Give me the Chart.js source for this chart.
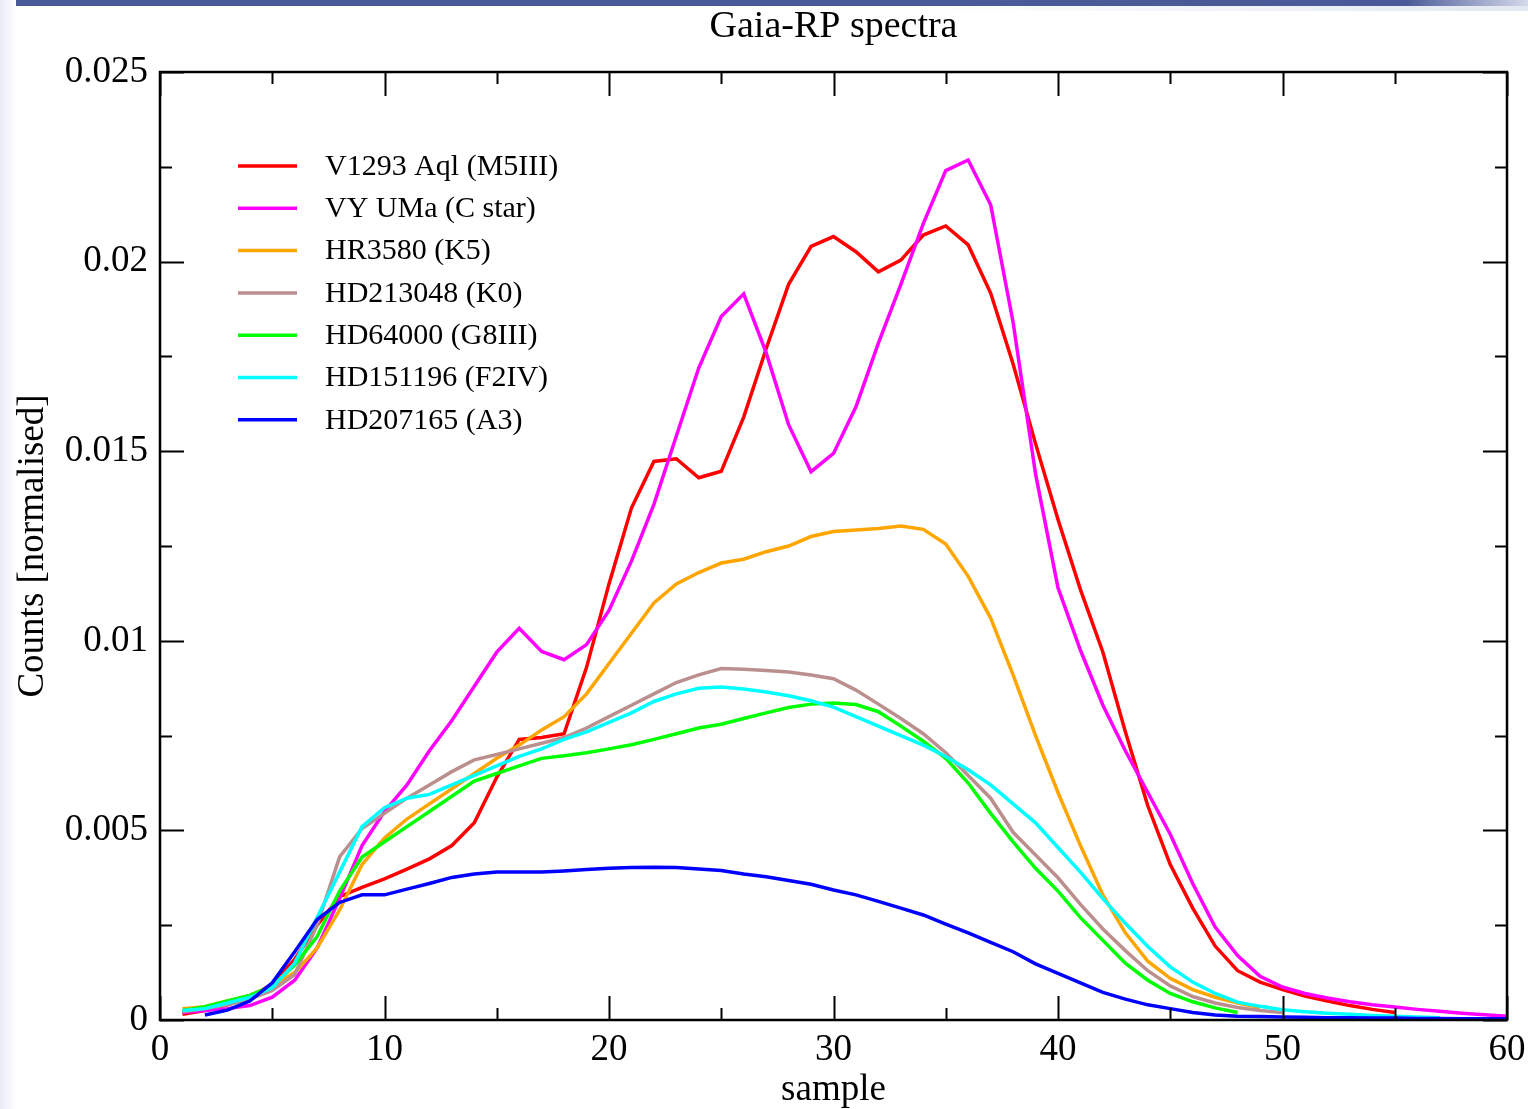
<!DOCTYPE html>
<html>
<head>
<meta charset="utf-8">
<title>Gaia-RP spectra</title>
<script src="https://cdn.jsdelivr.net/npm/chart.js@4.4.1/dist/chart.umd.min.js"></script>
<style>
  html, body { margin: 0; padding: 0; background: #fff; }
  #page { position: relative; width: 1528px; height: 1109px; overflow: hidden; }
  #topbar { position: absolute; left: 0; top: 0; width: 1528px; height: 6px;
            background: linear-gradient(to right, #4a5a98 0%, #4a5a98 92%, #d4d9ea 100%); }
  #topfade { position: absolute; left: 0; top: 6px; width: 1528px; height: 5px;
             background: linear-gradient(to right, #ffffff 60%, #e4e8f2 100%); }
  #leftstrip { position: absolute; left: 0; top: 0; width: 16px; height: 1109px;
               background: linear-gradient(to right, #e8ebf4, #ffffff); }
  canvas { position: absolute; left: 0; top: 0; }
</style>
</head>
<body>
<div id="page">
  <div id="topbar"></div>
  <div id="topfade"></div>
  <div id="leftstrip"></div>
  <canvas id="spectra" width="1528" height="1109"></canvas>
</div>
<script>
// sample index along the dispersed RP spectrum
const samples = [];
for (let s = 1; s <= 60; s++) samples.push(s);

// normalised counts per sample (index 0 = sample 1)
const v1293Aql = [0.00015, 0.00025, 0.0004, 0.0006, 0.00095, 0.0016, 0.0025, 0.00325, 0.0035, 0.00372,
  0.00398, 0.00425, 0.0046, 0.0052, 0.0064, 0.0074, 0.00745, 0.00755, 0.0093, 0.0115,
  0.0135, 0.01473, 0.0148, 0.0143, 0.01447, 0.0159, 0.0177, 0.0194, 0.0204, 0.02066,
  0.02026, 0.01973, 0.02004, 0.0207, 0.02094, 0.02044, 0.01917, 0.0173, 0.0152, 0.0132,
  0.01135, 0.0097, 0.0076, 0.00565, 0.0041, 0.00295, 0.00195, 0.0013, 0.001, 0.0008,
  0.00063, 0.0005, 0.00038, 0.00028, 0.0002];
const vyUMa = [0.0002, 0.00025, 0.0003, 0.00038, 0.0006, 0.00105, 0.0019, 0.0032, 0.0046, 0.0055,
  0.0062, 0.0071, 0.0079, 0.0088, 0.0097, 0.01033, 0.00972, 0.0095, 0.0099, 0.0108,
  0.0121, 0.0136, 0.0154, 0.0172, 0.01855, 0.01915, 0.0176, 0.0157, 0.01446, 0.01494,
  0.01617, 0.01785, 0.0194, 0.021, 0.0224, 0.02268, 0.0215, 0.0184, 0.0144, 0.0114,
  0.00975, 0.0083, 0.0071, 0.006, 0.0049, 0.0036, 0.00245, 0.0017, 0.00115, 0.00087,
  0.0007, 0.00058, 0.00048, 0.0004, 0.00034, 0.00028, 0.00023, 0.00018, 0.00014, 0.0001];
const hr3580 = [0.0003, 0.00035, 0.0005, 0.00065, 0.0009, 0.00125, 0.0019, 0.0029, 0.0041, 0.0048,
  0.0053, 0.0057, 0.0061, 0.0065, 0.0069, 0.00725, 0.00765, 0.008, 0.0086, 0.0094,
  0.0102, 0.011, 0.0115, 0.0118, 0.01205, 0.01215, 0.01235, 0.0125, 0.01275, 0.01288,
  0.01292, 0.01296, 0.01303, 0.01294, 0.01255, 0.0117, 0.0106, 0.0091, 0.0075, 0.006,
  0.0046, 0.0033, 0.0023, 0.00155, 0.0011, 0.0008, 0.0006, 0.00045, 0.00033];
const hd213048 = [0.00022, 0.0003, 0.0004, 0.00055, 0.00078, 0.0012, 0.0025, 0.0043, 0.00505, 0.00545,
  0.00585, 0.0062, 0.00655, 0.00686, 0.007, 0.00715, 0.0073, 0.00745, 0.0077, 0.008,
  0.0083, 0.0086, 0.0089, 0.0091, 0.00927, 0.00925, 0.00922, 0.00918, 0.0091, 0.009,
  0.0087, 0.00833, 0.00795, 0.00755, 0.00705, 0.00645, 0.00585, 0.00495, 0.00435, 0.00375,
  0.00305, 0.0024, 0.00183, 0.0013, 0.0009, 0.00062, 0.00045, 0.00033, 0.00025, 0.0002];
const hd64000 = [0.00025, 0.00035, 0.0005, 0.00065, 0.0009, 0.00145, 0.0022, 0.0034, 0.0043, 0.0047,
  0.0051, 0.0055, 0.0059, 0.0063, 0.0065, 0.0067, 0.0069, 0.00697, 0.00705, 0.00715,
  0.00726, 0.0074, 0.00755, 0.0077, 0.0078, 0.00795, 0.0081, 0.00824, 0.00833, 0.00836,
  0.00832, 0.00813, 0.00775, 0.00735, 0.0069, 0.00625, 0.00545, 0.0047, 0.004, 0.0034,
  0.0027, 0.0021, 0.0015, 0.00105, 0.0007, 0.00048, 0.00032, 0.0002];
const hd151196 = [0.00025, 0.0003, 0.00045, 0.0006, 0.00085, 0.0015, 0.0027, 0.0039, 0.0051, 0.0056,
  0.00585, 0.00595, 0.0062, 0.00645, 0.0067, 0.00695, 0.00715, 0.0074, 0.0076, 0.00785,
  0.0081, 0.0084, 0.0086, 0.00875, 0.00878, 0.00873, 0.00865, 0.00855, 0.00842, 0.00825,
  0.008, 0.00775, 0.0075, 0.00725, 0.00695, 0.0066, 0.0062, 0.0057, 0.0052, 0.00455,
  0.0039, 0.0032, 0.00255, 0.00194, 0.0014, 0.001, 0.0007, 0.00047, 0.00036, 0.00027,
  0.00022, 0.00018, 0.00015, 0.00012, 0.0001, 0.00008, 0.00006];
const hd207165 = [null, 0.00013, 0.00026, 0.0005, 0.00098, 0.0018, 0.00265, 0.0031, 0.0033, 0.0033,
  0.00345, 0.0036, 0.00376, 0.00385, 0.0039, 0.0039, 0.0039, 0.00393, 0.00397, 0.004,
  0.00402, 0.00403, 0.00402, 0.00398, 0.00394, 0.00385, 0.00378, 0.00368, 0.00358, 0.00343,
  0.0033, 0.00313, 0.00295, 0.00277, 0.00253, 0.0023, 0.00205, 0.0018, 0.00148, 0.00123,
  0.00098, 0.00073, 0.00055, 0.0004, 0.0003, 0.0002, 0.00013, 0.0001, 0.00009, 0.00008,
  0.00007, 0.00006, 0.00006, 0.00005, 0.00005, 0.00004, 0.00004, 0.00003, 0.00003, 0.00003];

const starNames = ['V1293 Aql (M5III)', 'VY UMa (C star)', 'HR3580 (K5)', 'HD213048 (K0)',
  'HD64000 (G8III)', 'HD151196 (F2IV)', 'HD207165 (A3)'];
const starSeries = [v1293Aql, vyUMa, hr3580, hd213048, hd64000, hd151196, hd207165];
const starColors = ['#ff0000', '#ff00ff', '#ffa500', '#bc8f8f', '#00ff00', '#00ffff', '#0000ff'];

const yTicks = [0, 0.005, 0.01, 0.015, 0.02, 0.025];

const plotTitle = 'Gaia-RP spectra';
const serif = '"Liberation Serif", "DejaVu Serif", serif';

function toPoints(vals) {
  return samples.map((s, i) => ({ x: s, y: vals[i] === undefined ? null : vals[i] }));
}

// title over the plot, box, inward ticks on all four sides, legend inside the plot
const framePlugin = {
  id: 'framePlugin',
  afterDraw(chart) {
    const { ctx, chartArea: a, scales: { x, y } } = chart;
    ctx.save();

    ctx.fillStyle = '#000';
    ctx.font = '38px ' + serif;
    ctx.textAlign = 'center';
    ctx.textBaseline = 'alphabetic';
    ctx.fillText(plotTitle, (a.left + a.right) / 2, 37);

    ctx.strokeStyle = '#000';
    ctx.lineWidth = 2;
    ctx.beginPath();
    for (let v = 0; v <= 60; v += 5) {
      const px = Math.round(x.getPixelForValue(v)) + 0.5;
      const len = v % 10 === 0 ? 24 : 12;
      ctx.moveTo(px, a.bottom); ctx.lineTo(px, a.bottom - len);
      ctx.moveTo(px, a.top); ctx.lineTo(px, a.top + len);
    }
    for (let k = 0; k <= 10; k++) {
      const v = k * 0.0025;
      const py = Math.round(y.getPixelForValue(v)) + 0.5;
      const len = k % 2 === 0 ? 24 : 12;
      ctx.moveTo(a.left, py); ctx.lineTo(a.left + len, py);
      ctx.moveTo(a.right, py); ctx.lineTo(a.right - len, py);
    }
    ctx.stroke();
    ctx.lineWidth = 2.5;
    ctx.strokeRect(a.left, a.top, a.right - a.left, a.bottom - a.top);

    // legend
    ctx.font = '30px ' + serif;
    ctx.textBaseline = 'middle';
    ctx.textAlign = 'left';
    chart.data.datasets.forEach((ds, i) => {
      const ly = 166 + i * 42.3;
      ctx.strokeStyle = ds.borderColor;
      ctx.lineWidth = 3.5;
      ctx.beginPath();
      ctx.moveTo(238, ly); ctx.lineTo(297, ly);
      ctx.stroke();
      ctx.fillStyle = '#000';
      ctx.fillText(ds.label, 325, ly + 1);
    });
    ctx.restore();
  }
};

new Chart(document.getElementById('spectra'), {
  type: 'line',
  data: {
    datasets: starSeries.map((vals, i) => ({
      label: starNames[i],
      data: toPoints(vals),
      borderColor: starColors[i],
      backgroundColor: starColors[i],
      borderWidth: 3.5,
      pointRadius: 0,
      tension: 0,
      fill: false,
      order: starSeries.length - i
    }))
  },
  options: {
    responsive: false,
    animation: false,
    layout: { padding: { left: 0, right: 21, top: 72, bottom: 0 } },
    plugins: {
      legend: { display: false },
      tooltip: { enabled: false },
      title: { display: false }
    },
    scales: {
      x: {
        type: 'linear',
        min: 0,
        max: 60,
        afterFit: s => { s.height = 89; s.paddingLeft = 0; s.paddingRight = 0; },
        grid: { display: false, drawTicks: false },
        border: { display: false },
        ticks: {
          stepSize: 10,
          color: '#000',
          padding: 12,
          maxRotation: 0,
          font: { family: serif, size: 37, lineHeight: 1 }
        },
        title: {
          display: true,
          text: 'sample',
          color: '#000',
          font: { family: serif, size: 37, lineHeight: 1 },
          padding: { top: 0, bottom: 0 }
        }
      },
      y: {
        min: 0,
        max: 0.025,
        afterFit: s => { s.width = 160; s.paddingTop = 0; s.paddingBottom = 0; },
        afterBuildTicks: s => { s.ticks = yTicks.map(v => ({ value: v })); },
        grid: { display: false, drawTicks: false },
        border: { display: false },
        ticks: {
          color: '#000',
          padding: 12,
          font: { family: serif, size: 37, lineHeight: 1 },
          callback: v => String(+v.toFixed(3))
        },
        title: {
          display: true,
          text: 'Counts [normalised]',
          color: '#000',
          font: { family: serif, size: 37, lineHeight: 1 },
          padding: { top: 14.5, bottom: 0 }
        }
      }
    }
  },
  plugins: [framePlugin]
});
</script>
</body>
</html>
